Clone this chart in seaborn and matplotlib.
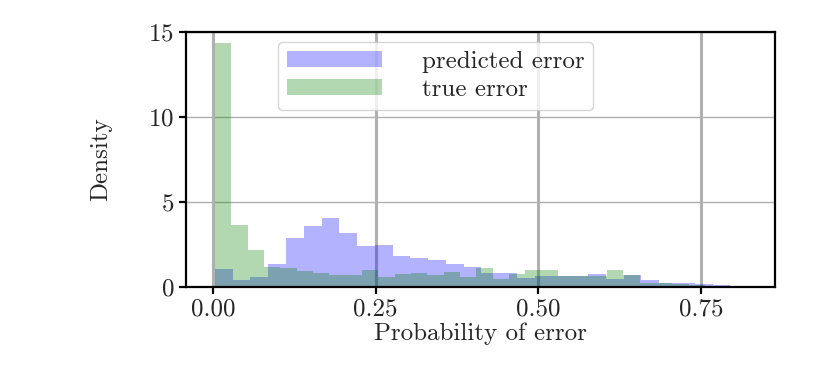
import numpy as np
import pandas as pd
import matplotlib
matplotlib.use("Agg")
import matplotlib.pyplot as plt
import seaborn as sns

# density per bin
pred_density = [1.06, 0.41, 0.60, 1.35, 2.86, 3.59, 4.04, 3.20, 2.43, 2.50,
                1.80, 1.73, 1.61, 1.33, 1.16, 0.80, 0.83, 0.53, 0.66, 0.63,
                0.63, 0.75, 0.45, 0.69, 0.39, 0.25, 0.22, 0.20, 0.14]
true_density = [14.33, 3.65, 2.20, 1.16, 1.10, 0.94, 0.84, 0.72, 0.72, 1.00,
                0.57, 0.76, 0.82, 0.70, 0.86, 0.57, 1.10, 0.45, 0.75, 1.02,
                1.02, 0.63, 0.63, 0.63, 0.98, 0.70, 0.25, 0.25, 0.16, 0.10]
pred_range = (0.003, 0.795)
true_range = (0.003, 0.756)
x_ticks = [0.0, 0.25, 0.5, 0.75]
y_ticks = [0, 5, 10, 15]

sns.set_style("white")
plt.rcParams["font.family"] = ["cmr10", "DejaVu Serif"]
plt.rcParams["axes.formatter.use_mathtext"] = True

pred_edges = np.linspace(pred_range[0], pred_range[1], len(pred_density) + 1)
true_edges = np.linspace(true_range[0], true_range[1], len(true_density) + 1)
pred_df = pd.DataFrame({"x": (pred_edges[:-1] + pred_edges[1:]) / 2, "w": pred_density})
true_df = pd.DataFrame({"x": (true_edges[:-1] + true_edges[1:]) / 2, "w": true_density})

fig = plt.figure(figsize=(8.3, 3.68), dpi=100)
ax = fig.add_axes([0.224, 0.22, 0.71, 0.693])

sns.histplot(data=pred_df, x="x", weights="w", bins=list(pred_edges), stat="count",
             color="blue", alpha=0.3, linewidth=0, label="predicted error", ax=ax)
sns.histplot(data=true_df, x="x", weights="w", bins=list(true_edges), stat="count",
             color="green", alpha=0.3, linewidth=0, label="true error", ax=ax)

ax.set_xlim(-0.0415, 0.864)
ax.set_ylim(0, 15)
ax.set_xticks(x_ticks)
ax.set_yticks(y_ticks)
ax.xaxis.set_major_formatter(matplotlib.ticker.FormatStrFormatter("%.2f"))
ax.set_axisbelow(True)
ax.grid(axis="x", color="#b0b0b0", linewidth=2.2)
ax.grid(axis="y", color="#b0b0b0", linewidth=1.0)
for sp in ax.spines.values():
    sp.set_color("black")
    sp.set_linewidth(1.6)
ax.tick_params(axis="both", which="major", direction="out", length=5, width=1.6,
               color="black", labelsize=18, bottom=True, left=True)

ax.set_xlabel("Probability of error", fontsize=18, labelpad=1)
ax.set_ylabel("Density", fontsize=18, labelpad=26)

ax.legend(loc="upper left", fontsize=18, handlelength=3.8, handleheight=0.6,
          handletextpad=1.6, labelspacing=0.25, borderpad=0.35, borderaxespad=0,
          frameon=True, framealpha=0.8, edgecolor="#cccccc",
          bbox_to_anchor=(0.156, 0.961))

fig.savefig("out.png", dpi=100)
